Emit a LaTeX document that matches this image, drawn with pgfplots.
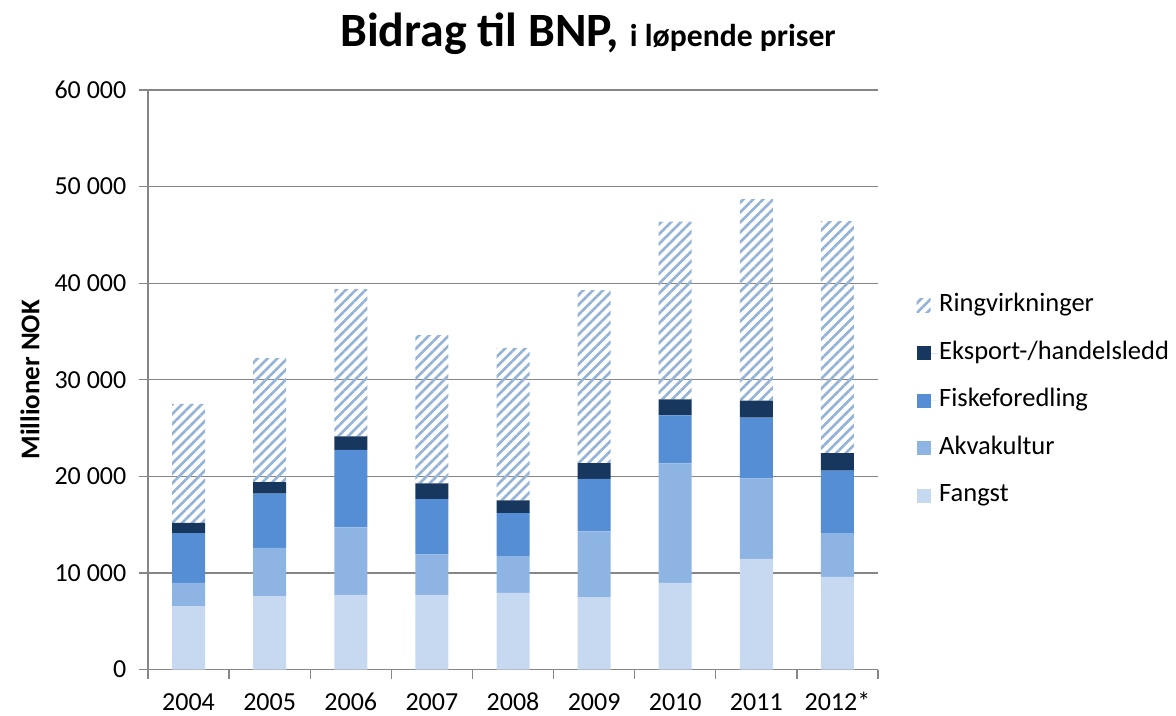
\documentclass[border=0pt]{standalone}
\usepackage{pgfplots}
\pgfplotsset{compat=1.18}
\usepackage{fontspec}
\setmainfont{Carlito}
\usetikzlibrary{patterns.meta}
\definecolor{cFang}{HTML}{C6D9F1}
\definecolor{cAkva}{HTML}{8EB4E3}
\definecolor{cFisk}{HTML}{558ED5}
\definecolor{cEksp}{HTML}{17375E}
\definecolor{cRing}{HTML}{95B3D7}
\definecolor{cGrid}{HTML}{868686}
\begin{document}
\begin{tikzpicture}
\useasboundingbox (0,0) rectangle (705.6pt,429pt);
\begin{axis}[
  at={(88.8pt,27.3pt)}, anchor=south west,
  scale only axis, width=438pt, height=347.7pt,
  ybar stacked, bar width=19.8pt,
  xmin=-0.5, xmax=8.5, ymin=0, ymax=60000,
  scaled y ticks=false,
  xtick={-0.5,0.5,1.5,2.5,3.5,4.5,5.5,6.5,7.5,8.5},
  x tick label as interval,
  xticklabels={2004,2005,2006,2007,2008,2009,2010,2011,{2012*}},
  ytick={0,10000,20000,30000,40000,50000,60000},
  yticklabels={0,10 000,20 000,30 000,40 000,50 000,60 000},
  ymajorgrids, grid style={cGrid, line width=0.8pt},
  axis lines*=left,
  axis line style={cGrid, line width=0.8pt},
  tick align=outside, major tick length=5.5pt,
  tick style={cGrid, line width=0.8pt},
  ticklabel style={font=\fontsize{15.6}{18}\selectfont, text=black},
  yticklabel style={xshift=-4pt},
  xticklabel style={anchor=base, yshift=-19pt, text height=11pt, text depth=0pt},
  ylabel={\bfseries Millioner NOK},
  every axis y label/.style={at={([xshift=-70.8pt]axis description cs:0,0.5)}, rotate=90, anchor=center, font=\fontsize{16.2}{19}\selectfont},
  reverse legend,
  legend cell align=left,
  legend style={at={([xshift=20pt,yshift=-1.5pt]axis description cs:1,0.4685)}, anchor=west, draw=none, fill=none,
    font=\fontsize{15.9}{19}\selectfont, row sep=12pt,
    nodes={inner sep=1pt, text height=11pt, text depth=3.5pt}},
  legend image code/.code={\fill[#1,draw=none] (0pt,-4.2pt) rectangle (8.4pt,4.2pt); \path (0pt,0pt) -- (12.5pt,0pt);},
]
\addplot[fill=cFang, draw=none] coordinates {(0,6560) (1,7590) (2,7730) (3,7730) (4,7930) (5,7490) (6,8970) (7,11450) (8,9590)};
\addplot[fill=cAkva, draw=none] coordinates {(0,2410) (1,5000) (2,6990) (3,4200) (4,3800) (5,6820) (6,12360) (7,8330) (8,4480)};
\addplot[fill=cFisk, draw=none] coordinates {(0,5160) (1,5610) (2,8030) (3,5720) (4,4470) (5,5440) (6,4990) (7,6300) (8,6510)};
\addplot[fill=cEksp, draw=none] coordinates {(0,1040) (1,1200) (2,1400) (3,1620) (4,1310) (5,1610) (6,1660) (7,1760) (8,1820)};
\addplot[draw=none, pattern={Lines[angle=45,distance=4.2pt,line width=1.6pt]}, pattern color=cRing] coordinates {(0,12330) (1,12850) (2,15230) (3,15360) (4,15780) (5,17920) (6,18380) (7,20870) (8,24030)};
\legend{Fangst,Akvakultur,Fiskeforedling,Eksport-/handelsledd,Ringvirkninger}
\end{axis}
\node[anchor=base] at (352.8pt,400.8pt) {\fontsize{28.7}{32}\selectfont\bfseries Bidrag til BNP, {\fontsize{19}{22}\selectfont i løpende priser}};
\end{tikzpicture}
\end{document}
